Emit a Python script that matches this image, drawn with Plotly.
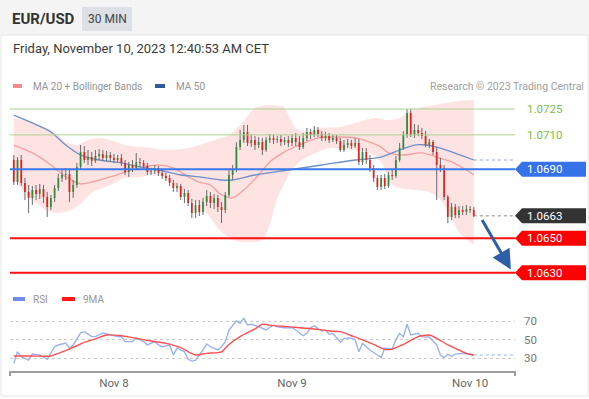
import plotly.graph_objects as go
import pandas as pd

W, H = 589, 399


def px(x):
    return x / W


def py(y):
    return 1 - y / H


# ---------------- text ----------------
pair = "EUR/USD"
timeframe = "30 MIN"
timestamp = "Friday, November 10, 2023 12:40:53 AM CET"
credit = "Research \u00a9 2023 Trading Central"
legend_main = ["MA 20 + Bollinger Bands", "MA 50"]
legend_rsi = ["RSI", "9MA"]

# ---------------- candles (30 min) ----------------
start = pd.Timestamp("2023-11-07 10:30")
open0 = 1.06954
close = [
    1.06826, 1.06954, 1.06821, 1.06768, 1.06734, 1.06780, 1.06757, 1.06786, 1.06739, 1.06681,
    1.06734, 1.06792, 1.06850, 1.06867, 1.06873, 1.06768, 1.06809, 1.06914, 1.07001, 1.06954,
    1.06971, 1.06948, 1.06977, 1.06989, 1.06966, 1.06983, 1.06966, 1.06954, 1.06966, 1.06937,
    1.06884, 1.06925, 1.06908, 1.06943, 1.06937, 1.06919, 1.06884, 1.06890, 1.06908, 1.06879,
    1.06861, 1.06850, 1.06821, 1.06792, 1.06803, 1.06739, 1.06763, 1.06704, 1.06646, 1.06693,
    1.06652, 1.06710, 1.06745, 1.06704, 1.06734, 1.06681, 1.06664, 1.06751, 1.06867, 1.06896,
    1.07029, 1.07070, 1.07117, 1.07053, 1.07070, 1.07041, 1.07058, 1.07012, 1.07070, 1.07082,
    1.07070, 1.07076, 1.07058, 1.07070, 1.07053, 1.07082, 1.07058, 1.07029, 1.07082, 1.07117,
    1.07099, 1.07128, 1.07105, 1.07082, 1.07093, 1.07070, 1.07082, 1.07064, 1.07012, 1.07041,
    1.07053, 1.07035, 1.07053, 1.06943, 1.07001, 1.06954, 1.06908, 1.06850, 1.06797, 1.06850,
    1.06803, 1.06867, 1.06861, 1.06954, 1.07024, 1.07099, 1.07227, 1.07099, 1.07128, 1.07111,
    1.07093, 1.07041, 1.07058, 1.07001, 1.06925, 1.06908, 1.06739, 1.06623, 1.06681, 1.06635,
    1.06664, 1.06652, 1.06670, 1.06664, 1.06630,
]
high = [
    1.06983, 1.06971, 1.06983, 1.06850, 1.06809, 1.06803, 1.06809, 1.06815, 1.06809, 1.06768,
    1.06751, 1.06809, 1.06873, 1.06896, 1.06908, 1.06896, 1.06838, 1.06937, 1.07041, 1.07035,
    1.07012, 1.07001, 1.07012, 1.07018, 1.07012, 1.07006, 1.07001, 1.06989, 1.06983, 1.06989,
    1.06954, 1.06943, 1.06954, 1.06995, 1.06966, 1.06954, 1.06937, 1.06908, 1.06925, 1.06919,
    1.06896, 1.06879, 1.06867, 1.06838, 1.06821, 1.06815, 1.06786, 1.06780, 1.06728, 1.06722,
    1.06722, 1.06734, 1.06780, 1.06768, 1.06757, 1.06751, 1.06710, 1.06768, 1.06896, 1.06925,
    1.07058, 1.07128, 1.07157, 1.07157, 1.07105, 1.07093, 1.07087, 1.07082, 1.07087, 1.07105,
    1.07099, 1.07093, 1.07099, 1.07087, 1.07093, 1.07105, 1.07111, 1.07093, 1.07111, 1.07140,
    1.07134, 1.07151, 1.07146, 1.07122, 1.07117, 1.07111, 1.07099, 1.07099, 1.07082, 1.07070,
    1.07076, 1.07070, 1.07082, 1.07076, 1.07024, 1.07024, 1.06983, 1.06925, 1.06867, 1.06867,
    1.06873, 1.06884, 1.06896, 1.06977, 1.07053, 1.07122, 1.07250, 1.07250, 1.07163, 1.07157,
    1.07140, 1.07122, 1.07076, 1.07070, 1.07029, 1.06966, 1.06925, 1.06751, 1.06704, 1.06699,
    1.06687, 1.06687, 1.06693, 1.06687, 1.06681,
]
low = [
    1.06809, 1.06809, 1.06803, 1.06722, 1.06646, 1.06693, 1.06722, 1.06728, 1.06704, 1.06623,
    1.06664, 1.06710, 1.06774, 1.06826, 1.06838, 1.06710, 1.06734, 1.06792, 1.06896, 1.06937,
    1.06925, 1.06919, 1.06937, 1.06954, 1.06948, 1.06948, 1.06943, 1.06937, 1.06937, 1.06919,
    1.06867, 1.06856, 1.06884, 1.06896, 1.06914, 1.06902, 1.06867, 1.06867, 1.06873, 1.06861,
    1.06844, 1.06832, 1.06803, 1.06768, 1.06768, 1.06722, 1.06704, 1.06687, 1.06617, 1.06617,
    1.06629, 1.06635, 1.06687, 1.06675, 1.06670, 1.06652, 1.06588, 1.06646, 1.06739, 1.06838,
    1.06884, 1.07012, 1.07053, 1.07035, 1.07029, 1.07012, 1.07024, 1.06983, 1.07001, 1.07053,
    1.07047, 1.07053, 1.07035, 1.07041, 1.07029, 1.07035, 1.07035, 1.07012, 1.07018, 1.07064,
    1.07076, 1.07087, 1.07087, 1.07064, 1.07064, 1.07053, 1.07058, 1.07047, 1.07001, 1.07001,
    1.07024, 1.07018, 1.07024, 1.06925, 1.06925, 1.06931, 1.06884, 1.06826, 1.06780, 1.06780,
    1.06786, 1.06792, 1.06838, 1.06850, 1.06943, 1.07012, 1.07082, 1.07087, 1.07082, 1.07093,
    1.07076, 1.07029, 1.07024, 1.06983, 1.06722, 1.06884, 1.06722, 1.06588, 1.06606, 1.06617,
    1.06617, 1.06635, 1.06635, 1.06646, 1.06623,
]

# ---------------- indicators (sampled at candle index) ----------------
bb_up_idx = [0, 5, 10, 14, 17, 20, 23, 26, 30, 34, 37, 41, 47, 50, 54, 58, 62, 65, 69, 73,
             74, 76, 79, 83, 88, 92, 97, 101, 104, 107, 109, 112, 115, 118, 120, 124]
bb_up_val = [1.07198, 1.07175, 1.07128, 1.07058, 1.07041, 1.07070, 1.07082, 1.07070, 1.07041, 1.07029,
             1.07024, 1.07012, 1.07024, 1.07041, 1.07070, 1.07099, 1.07180, 1.07256, 1.07273, 1.07256,
             1.07215, 1.07140, 1.07117, 1.07140, 1.07146, 1.07169, 1.07198, 1.07186, 1.07198, 1.07244,
             1.07256, 1.07267, 1.07279, 1.07290, 1.07296, 1.07302]
bb_lo_idx = [0, 5, 10, 14, 18, 21, 26, 30, 34, 39, 43, 47, 50, 53, 56, 60, 64, 67, 69, 71,
             73, 75, 78, 82, 85, 91, 96, 99, 102, 104, 108, 112, 115, 118, 120, 124]
bb_lo_val = [1.06850, 1.06722, 1.06652, 1.06652, 1.06699, 1.06763, 1.06809, 1.06850, 1.06856, 1.06867,
             1.06809, 1.06734, 1.06693, 1.06617, 1.06536, 1.06484, 1.06478, 1.06490, 1.06580, 1.06730,
             1.06820, 1.06900, 1.06960, 1.07001, 1.07024, 1.07012, 1.06995, 1.06943, 1.06809, 1.06792,
             1.06780, 1.06768, 1.06722, 1.06617, 1.06536, 1.06461]
ma20_idx = [0, 5, 10, 14, 18, 21, 26, 30, 35, 39, 43, 47, 50, 53, 56, 59, 62, 66, 69, 73,
            77, 82, 85, 92, 96, 99, 101, 105, 110, 114, 118, 122, 124]
ma20_val = [1.07041, 1.06995, 1.06925, 1.06856, 1.06815, 1.06826, 1.06856, 1.06884, 1.06914, 1.06925,
            1.06908, 1.06856, 1.06826, 1.06809, 1.06751, 1.06734, 1.06780, 1.06867, 1.06943, 1.07001,
            1.07041, 1.07082, 1.07087, 1.07082, 1.07058, 1.07029, 1.06995, 1.06983, 1.06995, 1.06971,
            1.06943, 1.06896, 1.06867]
ma50_idx = [0, 5, 10, 14, 18, 23, 29, 34, 39, 45, 50, 56, 59, 65, 74, 83, 92, 99, 104, 108,
            111, 114, 118, 124]
ma50_val = [1.07215, 1.07169, 1.07117, 1.07041, 1.06983, 1.06954, 1.06937, 1.06914, 1.06896, 1.06867,
            1.06856, 1.06838, 1.06838, 1.06867, 1.06896, 1.06925, 1.06954, 1.06971, 1.07012, 1.07041,
            1.07041, 1.07029, 1.07001, 1.06954]

rsi_idx = [0, 1, 2, 4, 5, 7, 9, 11, 12, 14, 15, 16, 18, 19, 21, 22, 24, 26, 28, 29,
           30, 32, 33, 35, 36, 38, 39, 40, 42, 43, 44, 46, 47, 48, 49, 51, 52, 53, 55, 56,
           57, 58, 60, 61, 62, 63, 64, 66, 68, 70, 71, 73, 75, 76, 78, 79, 80, 81, 83, 84,
           85, 86, 88, 89, 91, 92, 93, 94, 96, 98, 99, 100, 102, 103, 104, 105, 106, 107, 109, 110,
           112, 114, 115, 116, 117, 118, 119, 121, 122, 124]
rsi_val = [24.7, 37, 31.7, 28, 34.6, 33.6, 29, 42.5, 44.4, 46.5, 41, 44.4, 57.4, 58.8, 53.4, 53.4, 57.4, 55.2, 53.4, 53.4,
           48, 48, 52, 48, 44.4, 48, 44.4, 42.5, 44.4, 33.6, 41, 37, 29, 27, 28, 39, 45.5, 42.5, 39, 42.5,
           48, 60.6, 70.3, 67.8, 73.2, 66, 66.8, 64.2, 60.6, 66, 64, 63, 63, 60.6, 54.4, 57, 63, 65, 59.5, 60.6,
           56, 57, 47.3, 51.6, 52, 50, 37, 46, 39, 33.6, 30.7, 40.8, 40, 50, 57, 53.4, 66.8, 55.2, 57, 53.4,
           53, 44.4, 33.6, 30.7, 34.6, 32, 34.6, 35.4, 34.6, 33.6]
ma9_idx = [0, 5, 10, 12, 15, 19, 22, 25, 29, 32, 37, 41, 45, 47, 49, 52, 56, 58, 61, 65,
           67, 70, 74, 77, 82, 85, 88, 91, 94, 97, 100, 102, 105, 109, 112, 114, 117, 120, 122, 124]
ma9_val = [32.5, 32.5, 32.5, 35.4, 40, 47.3, 51, 55.2, 54.4, 52.3, 48.7, 46.2, 41.5, 37, 33.6, 35.4, 37, 45, 53.4, 61.7,
           66.8, 65.3, 64.2, 63, 61.3, 59.5, 58.8, 54.4, 50, 45, 39.7, 40, 45, 53.4, 55.2, 51.6, 44.4, 39, 35.4, 33.6]

# ---------------- levels ----------------
resistances = [1.0725, 1.0710]
pivot = 1.0690
last_price = 1.0663
supports = [1.0650, 1.0630]
day_ticks = ["2023-11-08", "2023-11-09", "2023-11-10"]
day_labels = ["Nov 8", "Nov 9", "Nov 10"]
rsi_ticks = [30, 50, 70]
forecast = [("2023-11-10 01:30", 1.06615), ("2023-11-10 05:30", 1.06318)]

# ---------------- derived ----------------
def t_at(i):
    return start + pd.Timedelta(minutes=30 * i)


times = [t_at(i) for i in range(len(close))]
opens = [open0] + close[:-1]

x_range = [pd.Timestamp("2023-11-07 09:59:16"), pd.Timestamp("2023-11-10 06:03:00")]
y_range = [1.062285, 1.073313]
rsi_range = [16.3, 93.0]
MAIN_TOP, MAIN_BOT = 95, 285
RSI_TOP, RSI_BOT = 300, 371
FONT = "Roboto, Arial, sans-serif"

fig = go.Figure()

# Bollinger band: lower edge then upper edge filled down to it
fig.add_trace(go.Scatter(x=[t_at(i) for i in bb_lo_idx], y=bb_lo_val, mode="lines",
                         line=dict(width=0, shape="spline", smoothing=0.8),
                         hoverinfo="skip", xaxis="x", yaxis="y"))
fig.add_trace(go.Scatter(x=[t_at(i) for i in bb_up_idx], y=bb_up_val, mode="lines", fill="tonexty",
                         fillcolor="rgba(248,80,80,0.16)", line=dict(width=0, shape="spline", smoothing=0.8),
                         hoverinfo="skip", xaxis="x", yaxis="y"))
fig.add_trace(go.Scatter(x=[t_at(i) for i in ma20_idx], y=ma20_val, mode="lines",
                         line=dict(color="#f4a0a0", width=1.3, shape="spline", smoothing=0.8),
                         hoverinfo="skip", xaxis="x", yaxis="y"))
fig.add_trace(go.Scatter(x=[t_at(i) for i in ma50_idx], y=ma50_val, mode="lines",
                         line=dict(color="#6f8fc8", width=1.3, shape="spline", smoothing=0.8),
                         hoverinfo="skip", xaxis="x", yaxis="y"))
# MA50 dotted extension
fig.add_trace(go.Scatter(x=[times[-1], x_range[1]], y=[ma50_val[-1], ma50_val[-1]], mode="lines",
                         line=dict(color="#8fa3c8", width=1, dash="dot"),
                         hoverinfo="skip", xaxis="x", yaxis="y"))
# last price dotted
fig.add_trace(go.Scatter(x=[times[-1], x_range[1]], y=[last_price, last_price], mode="lines",
                         line=dict(color="#888888", width=1, dash="dot"),
                         hoverinfo="skip", xaxis="x", yaxis="y"))

# candles (overlay axis so they sit above the band)
fig.add_trace(go.Candlestick(
    x=times, open=opens, high=high, low=low, close=close,
    increasing=dict(fillcolor="#2f8a3c", line=dict(color="#2f8a3c", width=0)),
    decreasing=dict(fillcolor="#e3201f", line=dict(color="#e3201f", width=0)),
    hoverinfo="skip", xaxis="x", yaxis="y3"))
wx, wy = [], []
for t, o, h, l, c in zip(times, opens, high, low, close):
    wx += [t, t, None, t, t, None]
    wy += [h, max(o, c), None, min(o, c), l, None]
fig.add_trace(go.Scatter(x=wx, y=wy, mode="lines", line=dict(color="#6a6a6a", width=1),
                         hoverinfo="skip", xaxis="x", yaxis="y3", connectgaps=False))

# RSI panel
fig.add_trace(go.Scatter(x=[t_at(i) for i in rsi_idx], y=rsi_val, mode="lines",
                         line=dict(color="#9bb2f2", width=1.4), hoverinfo="skip",
                         xaxis="x2", yaxis="y2"))
fig.add_trace(go.Scatter(x=[t_at(rsi_idx[-1]), x_range[1]], y=[rsi_val[-1], rsi_val[-1]], mode="lines",
                         line=dict(color="#9bb2f2", width=1, dash="dot"), hoverinfo="skip",
                         xaxis="x2", yaxis="y2"))
fig.add_trace(go.Scatter(x=[t_at(i) for i in ma9_idx], y=ma9_val, mode="lines",
                         line=dict(color="#ff5050", width=1.4, shape="spline", smoothing=0.6),
                         hoverinfo="skip", xaxis="x2", yaxis="y2"))

shapes = []
annotations = []

# header
shapes.append(dict(type="rect", xref="paper", yref="paper", x0=0, x1=1, y0=py(35), y1=1,
                   fillcolor="#f4f4f4", line=dict(width=0), layer="below"))
shapes.append(dict(type="rect", xref="paper", yref="paper", x0=px(82), x1=px(132), y0=py(31), y1=py(7),
                   fillcolor="#dde0e4", line=dict(width=0), layer="below"))
shapes.append(dict(type="rect", xref="paper", yref="paper", x0=px(1), x1=px(588), y0=py(396), y1=py(35),
                   fillcolor="rgba(0,0,0,0)", line=dict(color="#e6e6e6", width=1), layer="below"))
annotations.append(dict(x=px(10), y=py(19), xref="paper", yref="paper", xanchor="left", yanchor="middle",
                        text="<b>%s</b>" % pair, showarrow=False, font=dict(family=FONT, size=15, color="#333333")))
annotations.append(dict(x=px(107), y=py(19), xref="paper", yref="paper", xanchor="center", yanchor="middle",
                        text=timeframe, showarrow=False, font=dict(family=FONT, size=12, color="#444444")))
annotations.append(dict(x=px(11), y=py(48), xref="paper", yref="paper", xanchor="left", yanchor="middle",
                        text=timestamp, showarrow=False, font=dict(family=FONT, size=13, color="#3a3a3a")))

# legends
def swatch(x0, x1, yc, color, h=4):
    shapes.append(dict(type="rect", xref="paper", yref="paper", x0=px(x0), x1=px(x1),
                       y0=py(yc + h / 2), y1=py(yc - h / 2), fillcolor=color, line=dict(width=0)))


def label(x, yc, text, color="#959595", size=10, anchor="left"):
    annotations.append(dict(x=px(x), y=py(yc), xref="paper", yref="paper", xanchor=anchor, yanchor="middle",
                            text=text, showarrow=False, font=dict(family=FONT, size=size, color=color)))


swatch(13, 22, 86, "#f58a8a")
label(31, 86, legend_main[0])
swatch(155, 165, 86, "#2f5aa0")
label(174, 86, legend_main[1])
label(586, 86, credit, color="#a0a0a0", size=10.5, anchor="right")
swatch(13, 25, 299, "#6d8ef0")
label(31, 299, legend_rsi[0])
swatch(62, 75, 299, "#ff1a1a")
label(81, 299, legend_rsi[1])

# level lines
def hline(level, color, width):
    shapes.append(dict(type="line", xref="paper", yref="y", x0=px(10), x1=px(515), y0=level, y1=level,
                       line=dict(color=color, width=width)))


for r in resistances:
    hline(r, "#acd38f", 1)
hline(pivot, "#3b78ec", 2)
for s in supports:
    hline(s, "#ff1010", 2)

unit = (y_range[1] - y_range[0]) / (MAIN_BOT - MAIN_TOP)


def tag(level, color):
    hh = 7.5 * unit
    xt, xs, xr = px(515), px(522), px(586)
    path = (f"M {xt},{level} L {xs},{level + hh} L {xr},{level + hh} "
            f"L {xr},{level - hh} L {xs},{level - hh} Z")
    shapes.append(dict(type="path", xref="paper", yref="y", path=path, fillcolor=color, line=dict(width=0)))
    annotations.append(dict(x=px(525), y=level, xref="paper", yref="y", xanchor="left", yanchor="middle",
                            text=f"{level:.4f}", showarrow=False,
                            font=dict(family=FONT, size=11.5, color="#ffffff")))


for r in resistances:
    annotations.append(dict(x=px(525), y=r, xref="paper", yref="y", xanchor="left", yanchor="middle",
                            text=f"{r:.4f}", showarrow=False,
                            font=dict(family=FONT, size=11.5, color="#7cbf45")))
tag(pivot, "#3572e8")
tag(last_price, "#333333")
for s in supports:
    tag(s, "#ff0000")

# forecast arrow
annotations.append(dict(x=pd.Timestamp(forecast[1][0]), y=forecast[1][1], ax=pd.Timestamp(forecast[0][0]),
                        ay=forecast[0][1], xref="x", yref="y", axref="x", ayref="y", text="",
                        showarrow=True, arrowhead=2, arrowsize=1.3, arrowwidth=3, arrowcolor="#2d5ea8"))

# axis end caps
for xc in (10, 515):
    shapes.append(dict(type="line", xref="paper", yref="paper", x0=px(xc), x1=px(xc), y0=py(RSI_BOT),
                       y1=py(RSI_BOT + 5), line=dict(color="#9e9e9e", width=2)))

fig.update_layout(
    width=W, height=H, margin=dict(l=0, r=0, t=0, b=0),
    paper_bgcolor="#ffffff", plot_bgcolor="rgba(0,0,0,0)", showlegend=False,
    font=dict(family=FONT),
    shapes=shapes, annotations=annotations,
    xaxis=dict(domain=[px(10), px(515)], range=x_range, type="date", anchor="y",
               showticklabels=False, showgrid=False, zeroline=False, showline=False,
               rangeslider=dict(visible=False), fixedrange=True),
    xaxis2=dict(domain=[px(10), px(515)], range=x_range, type="date", anchor="y2", matches="x",
                tickvals=[pd.Timestamp(d) for d in day_ticks], ticktext=day_labels,
                showgrid=False, zeroline=False, showline=True, linecolor="#9e9e9e", linewidth=2,
                ticks="", tickfont=dict(family=FONT, size=11.5, color="#666666"), fixedrange=True),
    yaxis=dict(domain=[py(MAIN_BOT), py(MAIN_TOP)], range=y_range, anchor="x",
               showticklabels=False, showgrid=False, zeroline=False, showline=False, fixedrange=True),
    yaxis3=dict(overlaying="y", range=y_range, anchor="x",
                showticklabels=False, showgrid=False, zeroline=False, showline=False, fixedrange=True),
    yaxis2=dict(domain=[py(RSI_BOT), py(RSI_TOP)], range=rsi_range, anchor="x2", side="right",
                tickvals=rsi_ticks, showgrid=True, gridcolor="#cccccc", griddash="dot", gridwidth=1,
                zeroline=False, showline=False, ticks="", ticklabelstandoff=8,
                tickfont=dict(family=FONT, size=11.5, color="#777777"), fixedrange=True),
)

fig.write_html("out.html")
